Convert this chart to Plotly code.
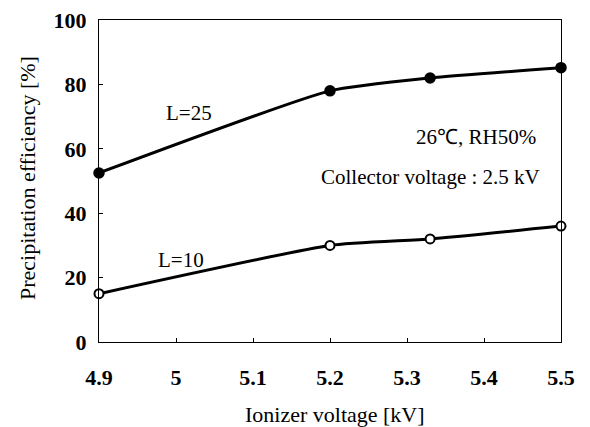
import plotly.graph_objects as go

voltage = [4.9, 5.2, 5.33, 5.5]
eff_L25 = [52.5, 78, 82, 85.2]
eff_L10 = [15, 30, 32, 36]
x_ticks = [4.9, 5.0, 5.1, 5.2, 5.3, 5.4, 5.5]
x_tick_labels = ["4.9", "5", "5.1", "5.2", "5.3", "5.4", "5.5"]
y_ticks = [0, 20, 40, 60, 80, 100]

font_family = "Liberation Serif, Times New Roman, serif"

fig = go.Figure()
fig.add_trace(go.Scatter(
    x=voltage, y=eff_L25, mode="lines+markers",
    line=dict(color="black", width=3, shape="spline", smoothing=0.5),
    marker=dict(symbol="circle", size=10, color="black", line=dict(color="black", width=1.5)),
    showlegend=False, cliponaxis=False))
fig.add_trace(go.Scatter(
    x=voltage, y=eff_L10, mode="lines+markers",
    line=dict(color="black", width=3, shape="spline", smoothing=0.5),
    marker=dict(symbol="circle", size=9, color="white", line=dict(color="black", width=2)),
    showlegend=False, cliponaxis=False))

annots = [
    dict(x=5.017, y=71.1, text="L=25"),
    dict(x=5.006, y=25.5, text="L=10"),
    dict(x=5.39, y=63.7, text="26\u2103, RH50%"),
    dict(x=5.33, y=51.2, text="Collector voltage : 2.5 kV"),
]
for a in annots:
    fig.add_annotation(x=a["x"], y=a["y"], text=a["text"], showarrow=False,
                       font=dict(family=font_family, size=21, color="black"))

# axis titles as paper annotations
fig.add_annotation(xref="paper", yref="paper", x=0.511, y=-0.224, xanchor="center", yanchor="middle",
                   text="Ionizer voltage [kV]", showarrow=False,
                   font=dict(family=font_family, size=22, color="black"))
fig.add_annotation(xref="paper", yref="paper", x=-0.156, y=0.509, xanchor="center", yanchor="middle",
                   text="Precipitation efficiency [%]", textangle=-90, showarrow=False,
                   font=dict(family=font_family, size=22, color="black"))

# page body has an 8px margin, so the plot area is placed 8px up/left here
fig.update_layout(
    width=590, height=427,
    margin=dict(l=91, r=37, t=12, b=93, autoexpand=False),
    paper_bgcolor="white", plot_bgcolor="white",
    font=dict(family=font_family, color="black"),
)
fig.update_xaxes(
    range=[4.9, 5.5], tickvals=x_ticks, ticktext=x_tick_labels,
    ticks="inside", ticklen=4, tickcolor="black",
    showline=True, linecolor="black", linewidth=1, mirror=True,
    showgrid=False, zeroline=False, automargin=False,
    tickfont=dict(family=font_family, size=22, color="black", weight="bold"),
    ticklabelstandoff=16, ticklabeloverflow="allow",
)
fig.update_yaxes(
    range=[0, 100], tickvals=y_ticks,
    ticks="inside", ticklen=4, tickcolor="black",
    showline=True, linecolor="black", linewidth=1, mirror=True,
    showgrid=False, zeroline=False, automargin=False,
    tickfont=dict(family=font_family, size=22, color="black", weight="bold"),
    ticklabelstandoff=7, ticklabeloverflow="allow",
)

fig.write_html("out.html")
